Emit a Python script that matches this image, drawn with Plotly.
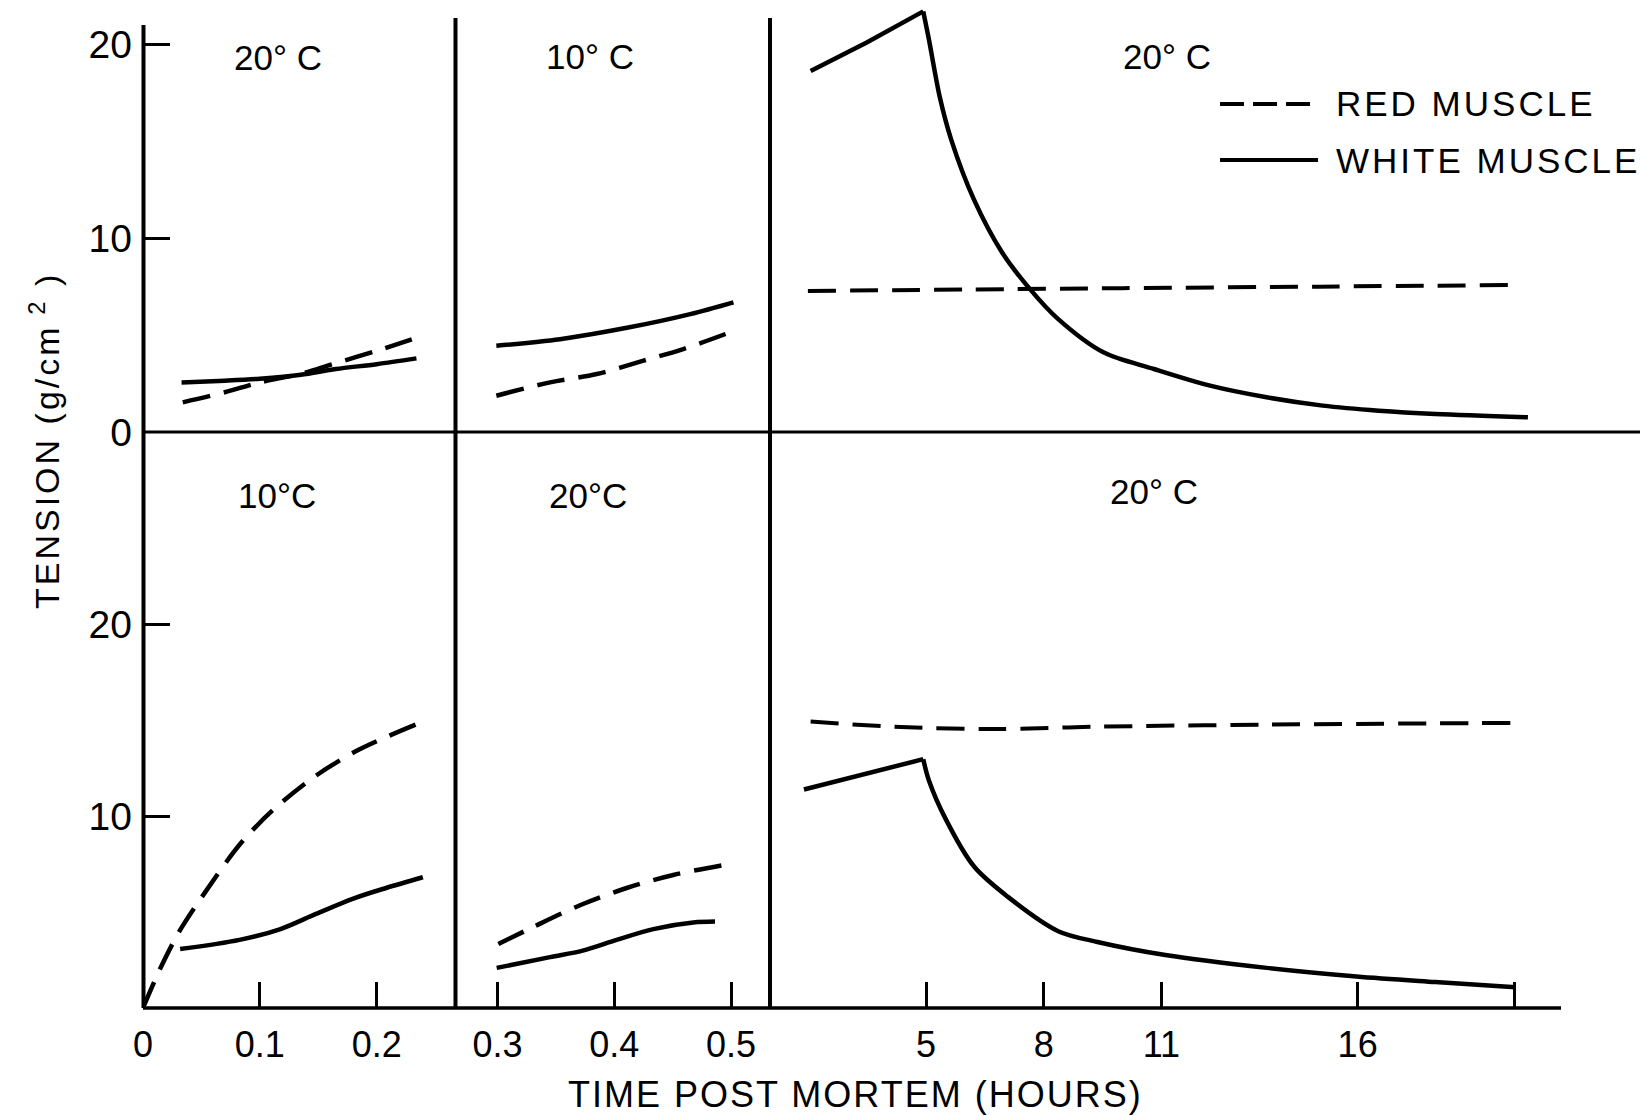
import plotly.graph_objects as go

# ---------------- data ----------------
# Top row (upper panels), tension in g/cm^2
top_left_red_t = [0.034, 0.07, 0.10, 0.134, 0.162, 0.20, 0.235]
top_left_red_v = [1.53, 2.05, 2.56, 2.99, 3.50, 4.19, 4.88]
top_left_white_t = [0.033, 0.07, 0.10, 0.135, 0.165, 0.20, 0.234]
top_left_white_v = [2.56, 2.65, 2.75, 2.95, 3.25, 3.50, 3.80]

top_mid_red_t = [0.299, 0.345, 0.385, 0.425, 0.459, 0.499]
top_mid_red_v = [1.87, 2.56, 2.99, 3.68, 4.28, 5.14]
top_mid_white_t = [0.299, 0.3535, 0.413, 0.465, 0.502]
top_mid_white_v = [4.45, 4.79, 5.40, 6.08, 6.69]

top_right_red_h = [1.99, 6.0, 10.0, 15.0, 19.84]
top_right_red_v = [7.28, 7.35, 7.42, 7.50, 7.58]
top_right_white_h = [2.06, 3.49, 4.93, 5.07, 5.36, 5.64, 6.22, 6.94, 7.65, 8.37,
                     9.52, 10.81, 12.24, 13.68, 15.11, 16.54, 17.98, 20.34]
top_right_white_v = [18.62, 20.1, 21.7, 20.3, 17.2, 15.1, 12.0, 9.26, 7.37, 5.82,
                     4.11, 3.25, 2.39, 1.79, 1.36, 1.10, 0.93, 0.76]
top_right_peak_index = 2

# Bottom row (lower panels)
bot_left_red_t = [0.0, 0.0141, 0.0312, 0.054, 0.0826, 0.111, 0.148, 0.185, 0.235]
bot_left_red_v = [0.0, 1.97, 4.0, 6.1, 8.5, 10.3, 12.1, 13.46, 14.8]
bot_left_white_t = [0.0318, 0.0826, 0.117, 0.148, 0.180, 0.208, 0.2395]
bot_left_white_v = [3.07, 3.55, 4.10, 4.90, 5.70, 6.25, 6.81]

bot_mid_red_t = [0.3007, 0.3306, 0.3706, 0.4106, 0.4505, 0.4976]
bot_mid_red_v = [3.33, 4.22, 5.35, 6.25, 6.93, 7.49]
bot_mid_white_t = [0.2993, 0.345, 0.373, 0.402, 0.4334, 0.4676, 0.4862]
bot_mid_white_v = [2.09, 2.65, 2.99, 3.55, 4.11, 4.45, 4.50]

bot_right_red_h = [2.06, 4.36, 6.79, 9.37, 13.68, 19.92]
bot_right_red_v = [14.92, 14.63, 14.53, 14.65, 14.76, 14.85]
bot_right_white_h = [1.89, 4.93, 5.07, 5.5, 6.22, 7.08, 8.37, 9.37, 11.1, 13.68,
                     15.97, 17.98, 20.02]
bot_right_white_v = [11.38, 12.96, 11.88, 9.85, 7.38, 5.8, 4.0, 3.44, 2.76, 2.09,
                     1.64, 1.35, 1.08]
bot_right_peak_index = 1

# Tick labels
x1_ticks = [0, 0.1, 0.2]
x1_labels = ["0", "0.1", "0.2"]
x2_ticks = [0.3, 0.4, 0.5]
x2_labels = ["0.3", "0.4", "0.5"]
x3_ticks = [5, 8, 11, 16]
x3_labels = ["5", "8", "11", "16"]
x3_unlabelled_ticks = [20]
ytop_ticks = [0, 10, 20]
ybot_ticks = [10, 20]

panel_labels = ["20° C", "10° C", "20° C", "10°C", "20°C", "20° C"]
legend_labels = ["RED MUSCLE", "WHITE MUSCLE"]
x_title = "TIME POST MORTEM (HOURS)"
y_title = "TENSION (g/cm<sup> 2</sup> )"

# ---------------- geometry ----------------
W, H = 1643, 1116
ML, MR, MT, MB = 143, 3, 5, 108
PW, PH = W - ML - MR, H - MT - MB


def px(xp):
    return (xp - ML) / PW


def py(yp):
    return (H - MB - yp) / PH


FONT = "Liberation Sans, Arial, sans-serif"
DASH = "28px,14px"
LW = 4.5

fig = go.Figure()


def add(x, y, xa, ya, dashed, width=LW, shape="spline"):
    fig.add_trace(go.Scatter(
        x=x, y=y, xaxis=xa, yaxis=ya, mode="lines",
        line=dict(color="black", width=width, dash=DASH if dashed else "solid",
                  shape=shape, smoothing=0.9 if shape == "spline" else None),
        showlegend=False, hoverinfo="skip"))


add(top_left_red_t, top_left_red_v, "x", "y2", True)
add(top_left_white_t, top_left_white_v, "x", "y2", False)
add(top_mid_red_t, top_mid_red_v, "x2", "y2", True)
add(top_mid_white_t, top_mid_white_v, "x2", "y2", False)
add(top_right_red_h, top_right_red_v, "x3", "y2", True, 4)
k = top_right_peak_index
add(top_right_white_h[:k + 1], top_right_white_v[:k + 1], "x3", "y2", False, shape="linear")
add(top_right_white_h[k:], top_right_white_v[k:], "x3", "y2", False)

add(bot_left_red_t, bot_left_red_v, "x", "y", True)
add(bot_left_white_t, bot_left_white_v, "x", "y", False)
add(bot_mid_red_t, bot_mid_red_v, "x2", "y", True)
add(bot_mid_white_t, bot_mid_white_v, "x2", "y", False)
add(bot_right_red_h, bot_right_red_v, "x3", "y", True, 4)
k = bot_right_peak_index
add(bot_right_white_h[:k + 1], bot_right_white_v[:k + 1], "x3", "y", False, shape="linear")
add(bot_right_white_h[k:], bot_right_white_v[k:], "x3", "y", False)

div1 = px(455.5)
div2 = px(770)
mid = py(432)

common_x = dict(showgrid=False, zeroline=False, showline=False, ticks="inside",
                ticklen=26, tickwidth=3, tickcolor="black", anchor="y",
                tickfont=dict(family=FONT, size=36, color="black"),
                ticklabelstandoff=12, fixedrange=True)
common_y = dict(showgrid=False, zeroline=False, showline=False, ticks="inside",
                ticklen=27, tickwidth=3, tickcolor="black", anchor="x",
                tickfont=dict(family=FONT, size=39, color="black"),
                ticklabelstandoff=10, fixedrange=True)

fig.update_layout(
    width=W, height=H, autosize=False,
    margin=dict(l=ML, r=MR, t=MT, b=MB),
    paper_bgcolor="white", plot_bgcolor="white",
    xaxis=dict(domain=[0, div1], range=[0, 0.26744],
               tickvals=x1_ticks, ticktext=x1_labels, **common_x),
    xaxis2=dict(domain=[div1, div2], range=[0.26404, 0.5333],
                tickvals=x2_ticks, ticktext=x2_labels, **common_x),
    xaxis3=dict(domain=[div2, 1], range=[1.0245, 23.196],
                tickvals=x3_ticks, ticktext=x3_labels,
                minor=dict(tickmode="array", tickvals=x3_unlabelled_ticks, ticks="inside",
                           ticklen=26, tickwidth=3, tickcolor="black", showgrid=False),
                **common_x),
    yaxis=dict(domain=[0, mid], range=[0, 30.0],
               tickvals=ybot_ticks, ticktext=[str(v) for v in ybot_ticks], **common_y),
    yaxis2=dict(domain=[mid, 1], range=[0, 22.03],
                tickvals=ytop_ticks, ticktext=[str(v) for v in ytop_ticks], **common_y),
)

# frame lines (left axis, dividers, middle baseline, bottom axis)
shapes = [
    dict(x0=px(143.5), x1=px(143.5), y0=0, y1=py(25), w=4),
    dict(x0=div1, x1=div1, y0=0, y1=py(18), w=4),
    dict(x0=div2, x1=div2, y0=0, y1=py(18), w=4),
    dict(x0=0, x1=px(1640), y0=mid, y1=mid, w=3),
    dict(x0=0, x1=px(1561), y0=0, y1=0, w=3.5),
]
for s in shapes:
    fig.add_shape(type="line", xref="paper", yref="paper",
                  x0=s["x0"], x1=s["x1"], y0=s["y0"], y1=s["y1"],
                  line=dict(color="black", width=s["w"]))

# legend (drawn manually)
leg_y = [104, 160]
fig.add_shape(type="line", xref="paper", yref="paper",
              x0=px(1220), x1=px(1318), y0=py(leg_y[0]), y1=py(leg_y[0]),
              line=dict(color="black", width=4, dash="24px,9px"))
fig.add_shape(type="line", xref="paper", yref="paper",
              x0=px(1220), x1=px(1318), y0=py(leg_y[1]), y1=py(leg_y[1]),
              line=dict(color="black", width=4))

ann_font = dict(family=FONT, size=35, color="black")
label_pos = [(278, 58), (590, 57), (1167, 57), (277, 495), (588, 495), (1154, 491)]
for txt, (xx, yy) in zip(panel_labels, label_pos):
    fig.add_annotation(x=px(xx), y=py(yy), xref="paper", yref="paper", text=txt,
                       showarrow=False, xanchor="center", yanchor="middle", font=ann_font)

for txt, yy in zip(legend_labels, leg_y):
    fig.add_annotation(x=px(1334), y=py(yy), xref="paper", yref="paper",
                       text='<span style="letter-spacing:3px">' + txt + '</span>',
                       showarrow=False, xanchor="left", yanchor="middle",
                       font=dict(family=FONT, size=35, color="black"))

fig.add_annotation(x=px(855), y=py(1094), xref="paper", yref="paper",
                   text='<span style="letter-spacing:2px">' + x_title + '</span>',
                   showarrow=False, xanchor="center", yanchor="middle", borderpad=0,
                   font=dict(family=FONT, size=36, color="black"))
fig.add_annotation(x=px(44), y=py(441), xref="paper", yref="paper",
                   text='<span style="letter-spacing:3px">' + y_title + '</span>',
                   showarrow=False, xanchor="center", yanchor="middle", textangle=-90,
                   font=dict(family=FONT, size=34, color="black"))

fig.write_html("out.html")
